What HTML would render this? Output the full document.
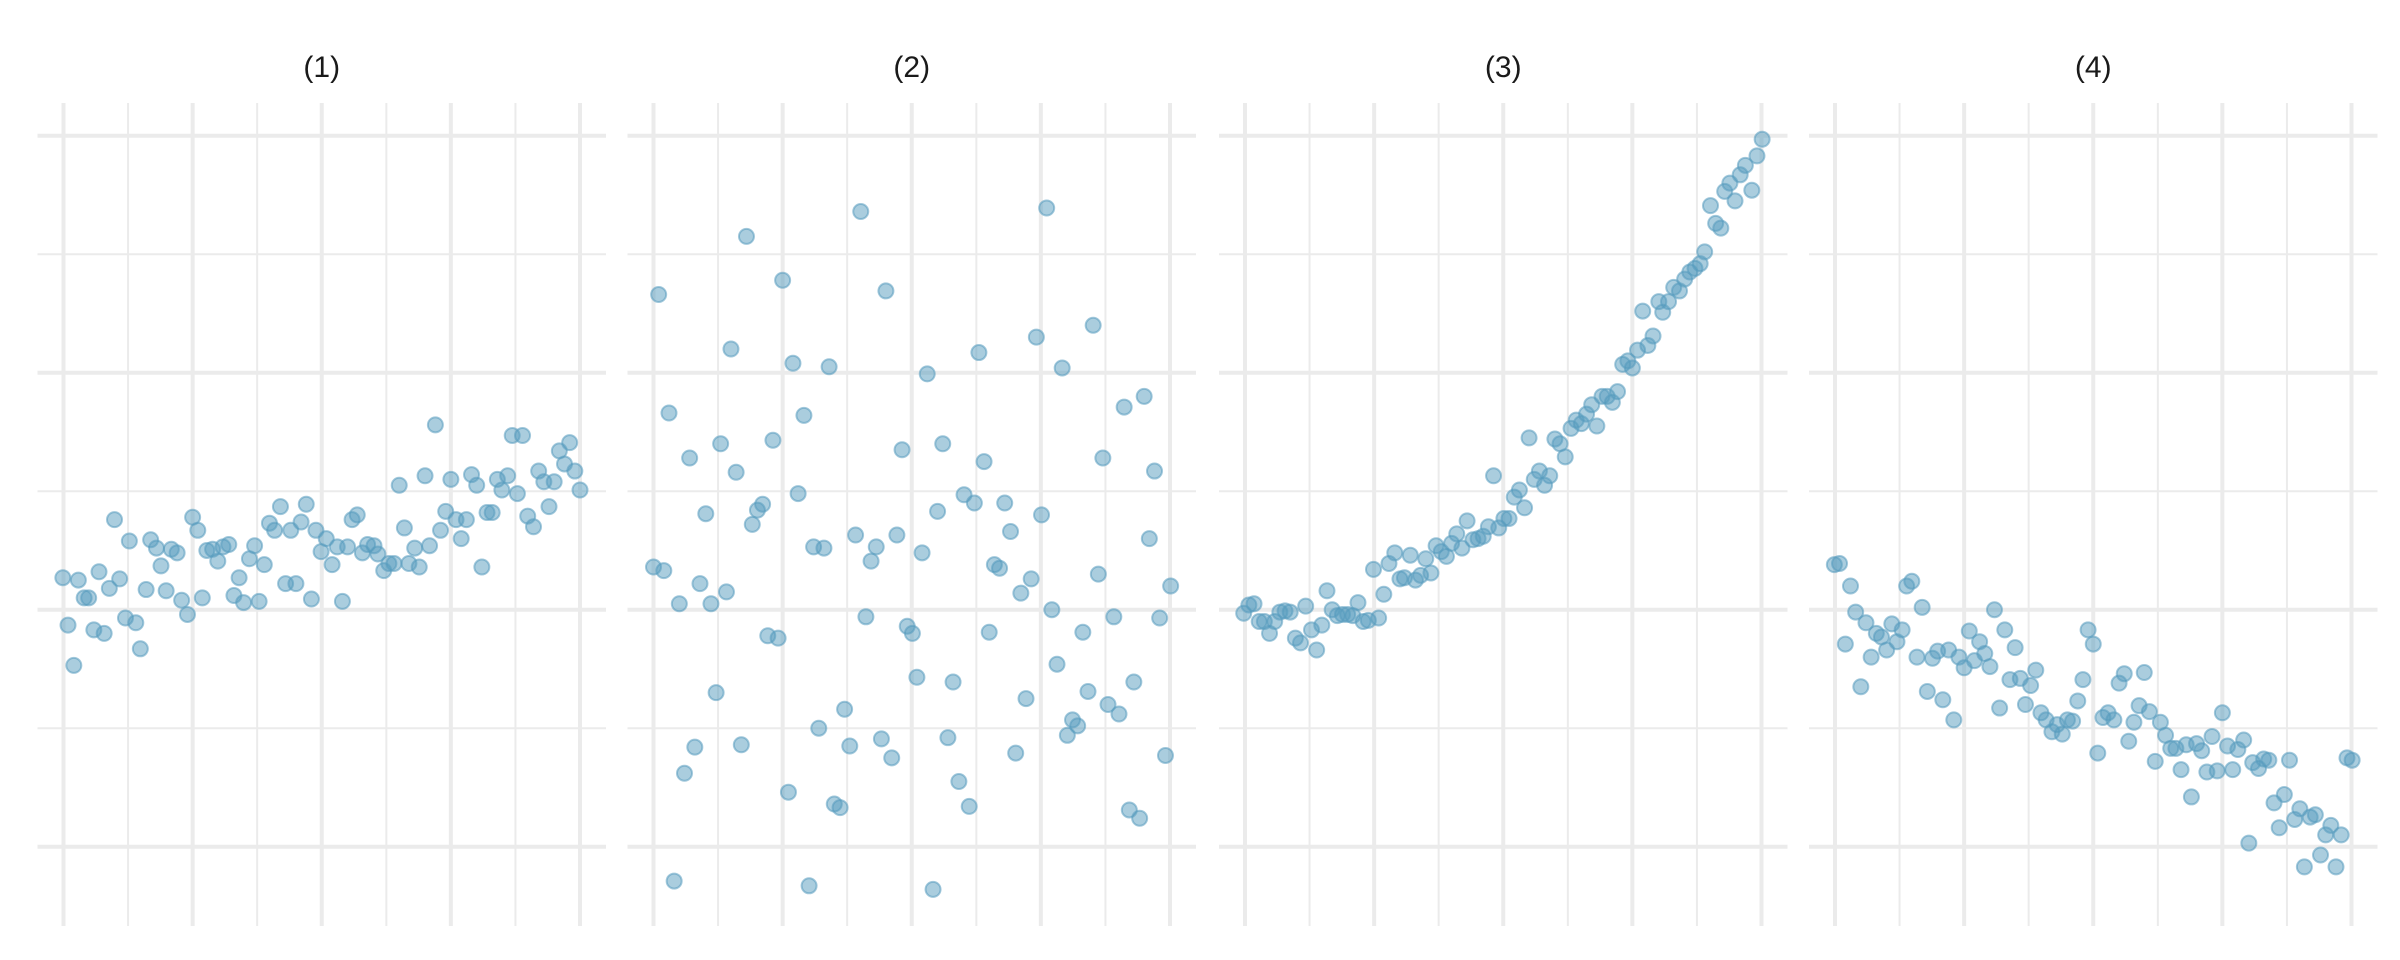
<!DOCTYPE html>
<html><head><meta charset="utf-8"><style>
html,body{margin:0;padding:0;background:#fff;}
svg{display:block;}
text{font-family:"Liberation Sans",Arial,sans-serif;}
</style></head><body>
<svg id="chart" width="2400" height="960" viewBox="0 0 2400 960"></svg>
<script>
const panelTitles = ["(1)","(2)","(3)","(4)"];
const xTicks = [0,1,2,3,4,5,6,7,8];
const yTicks = [-2,-1,0,1,2,3,4];

const p1x = [-0.01,0.07,0.23,0.32,0.39,0.16,0.47,0.55,0.63,0.71,0.79,0.87,0.96,1.02,1.12,1.19,1.28,1.35,1.44,1.51,1.59,1.67,1.76,1.83,1.92,2.00,2.08,2.15,2.22,2.31,2.39,2.47,2.56,2.64,2.72,2.79,2.88,2.96,3.03,3.11,3.19,3.27,3.36,3.44,3.52,3.60,3.68,3.76,3.84,3.91,3.99,4.07,4.16,4.24,4.32,4.40,4.47,4.55,4.63,4.71,4.81,4.87,4.96,5.04,5.12,5.20,5.28,5.35,5.44,5.51,5.60,5.67,5.76,5.84,5.92,6.00,6.08,6.16,6.24,6.32,6.40,6.48,6.56,6.64,6.72,6.79,6.88,6.95,7.03,7.11,7.19,7.28,7.36,7.44,7.52,7.60,7.68,7.76,7.84,7.92,8.00];
const p1y = [0.27,-0.13,0.25,0.10,0.10,-0.47,-0.17,0.32,-0.20,0.18,0.76,0.26,-0.07,0.58,-0.11,-0.33,0.17,0.59,0.52,0.37,0.16,0.51,0.48,0.08,-0.04,0.78,0.67,0.10,0.50,0.51,0.41,0.53,0.55,0.12,0.27,0.06,0.43,0.54,0.07,0.38,0.73,0.67,0.87,0.22,0.67,0.22,0.74,0.89,0.09,0.67,0.49,0.60,0.38,0.53,0.07,0.53,0.76,0.80,0.48,0.55,0.54,0.47,0.33,0.39,0.39,1.05,0.69,0.39,0.52,0.36,1.13,0.54,1.56,0.67,0.83,1.10,0.76,0.60,0.76,1.14,1.05,0.36,0.82,0.82,1.10,1.01,1.13,1.47,0.98,1.47,0.79,0.70,1.17,1.08,0.87,1.08,1.34,1.23,1.41,1.17,1.01];

const p2x = [0.00,0.08,0.16,0.24,0.32,0.40,0.48,0.56,0.64,0.72,0.81,0.89,0.97,1.04,1.13,1.20,1.28,1.36,1.44,1.53,1.61,1.69,1.77,1.85,1.93,2.00,2.09,2.16,2.24,2.33,2.41,2.48,2.56,2.64,2.72,2.80,2.89,2.96,3.04,3.13,3.21,3.29,3.37,3.45,3.53,3.60,3.69,3.77,3.85,3.93,4.01,4.08,4.16,4.24,4.33,4.40,4.48,4.56,4.64,4.73,4.81,4.89,4.97,5.04,5.12,5.20,5.28,5.36,5.44,5.53,5.61,5.69,5.77,5.85,5.93,6.01,6.09,6.17,6.25,6.33,6.41,6.49,6.57,6.65,6.73,6.81,6.89,6.96,7.04,7.13,7.21,7.29,7.37,7.44,7.53,7.60,7.68,7.76,7.84,7.93,8.01];
const p2y = [0.36,2.66,0.33,1.66,-2.29,0.05,-1.38,1.28,-1.16,0.22,0.81,0.05,-0.70,1.40,0.15,2.20,1.16,-1.14,3.15,0.72,0.84,0.89,-0.22,1.43,-0.24,2.78,-1.54,2.08,0.98,1.64,-2.33,0.53,-1.00,0.52,2.05,-1.64,-1.67,-0.84,-1.15,0.63,3.36,-0.06,0.41,0.53,-1.09,2.69,-1.25,0.63,1.35,-0.14,-0.20,-0.57,0.48,1.99,-2.36,0.83,1.40,-1.08,-0.61,-1.45,0.97,-1.66,0.90,2.17,1.25,-0.19,0.38,0.35,0.90,0.66,-1.21,0.14,-0.75,0.26,2.30,0.80,3.39,0.00,-0.46,2.04,-1.06,-0.93,-0.98,-0.19,-0.69,2.40,0.30,1.28,-0.80,-0.06,-0.88,1.71,-1.69,-0.61,-1.76,1.80,0.60,1.17,-0.07,-1.23,0.20];

const p3x = [-0.02,0.06,0.14,0.22,0.30,0.38,0.46,0.54,0.62,0.70,0.78,0.86,0.94,1.03,1.11,1.19,1.27,1.35,1.43,1.51,1.59,1.67,1.75,1.83,1.91,1.99,2.07,2.15,2.23,2.32,2.40,2.47,2.56,2.64,2.72,2.80,2.88,2.96,3.04,3.12,3.20,3.28,3.36,3.44,3.53,3.61,3.69,3.77,3.85,3.93,4.01,4.09,4.17,4.25,4.33,4.40,4.48,4.56,4.64,4.72,4.80,4.88,4.96,5.05,5.13,5.21,5.29,5.37,5.45,5.53,5.61,5.69,5.77,5.85,5.93,6.00,6.08,6.16,6.24,6.32,6.41,6.47,6.56,6.64,6.73,6.81,6.89,6.97,7.05,7.12,7.21,7.29,7.37,7.43,7.51,7.59,7.67,7.75,7.85,7.93,8.01];
const p3y = [-0.03,0.04,0.05,-0.10,-0.10,-0.20,-0.10,-0.02,-0.01,-0.02,-0.24,-0.28,0.03,-0.17,-0.34,-0.13,0.16,0.00,-0.05,-0.04,-0.04,-0.05,0.06,-0.10,-0.09,0.34,-0.07,0.13,0.39,0.48,0.26,0.27,0.46,0.25,0.29,0.43,0.31,0.54,0.49,0.45,0.56,0.64,0.52,0.75,0.59,0.60,0.62,0.70,1.13,0.69,0.77,0.77,0.95,1.01,0.86,1.45,1.10,1.17,1.05,1.13,1.44,1.40,1.29,1.53,1.60,1.57,1.65,1.73,1.55,1.80,1.80,1.75,1.84,2.07,2.10,2.04,2.19,2.52,2.23,2.31,2.60,2.51,2.60,2.72,2.69,2.79,2.85,2.88,2.92,3.02,3.41,3.26,3.22,3.53,3.60,3.45,3.67,3.75,3.54,3.83,3.97];

const p4x = [-0.01,0.07,0.16,0.24,0.32,0.40,0.48,0.56,0.64,0.72,0.80,0.88,0.96,1.04,1.11,1.19,1.27,1.35,1.43,1.51,1.59,1.67,1.76,1.84,1.92,2.00,2.08,2.16,2.24,2.32,2.40,2.47,2.55,2.63,2.71,2.79,2.87,2.95,3.03,3.11,3.19,3.27,3.36,3.44,3.52,3.60,3.68,3.76,3.84,3.92,4.00,4.07,4.15,4.23,4.32,4.40,4.48,4.55,4.63,4.71,4.79,4.87,4.96,5.04,5.12,5.20,5.28,5.36,5.44,5.52,5.60,5.68,5.76,5.84,5.92,6.00,6.08,6.16,6.24,6.33,6.41,6.47,6.56,6.64,6.72,6.80,6.88,6.96,7.04,7.12,7.20,7.27,7.36,7.44,7.52,7.60,7.68,7.76,7.84,7.93,8.01];
const p4y = [0.38,0.39,-0.29,0.20,-0.02,-0.65,-0.11,-0.40,-0.20,-0.23,-0.34,-0.12,-0.27,-0.17,0.20,0.24,-0.40,0.02,-0.69,-0.41,-0.35,-0.76,-0.34,-0.93,-0.40,-0.49,-0.18,-0.43,-0.27,-0.37,-0.48,0.00,-0.83,-0.17,-0.59,-0.32,-0.58,-0.80,-0.64,-0.51,-0.87,-0.93,-1.03,-0.97,-1.05,-0.93,-0.94,-0.77,-0.59,-0.17,-0.29,-1.21,-0.91,-0.87,-0.93,-0.62,-0.54,-1.11,-0.95,-0.81,-0.53,-0.86,-1.28,-0.95,-1.06,-1.17,-1.17,-1.35,-1.14,-1.58,-1.13,-1.19,-1.37,-1.07,-1.36,-0.87,-1.15,-1.35,-1.18,-1.10,-1.97,-1.29,-1.34,-1.26,-1.27,-1.63,-1.84,-1.56,-1.27,-1.77,-1.68,-2.17,-1.75,-1.73,-2.07,-1.90,-1.82,-2.17,-1.90,-1.25,-1.27];

const seriesX = [p1x,p2x,p3x,p4x];
const seriesY = [p1y,p2y,p3y,p4y];

const NS = "http://www.w3.org/2000/svg";
const svg = document.getElementById("chart");
const panelLeft = [63.5, 653.5, 1245, 1835];
const panelW = 516.5;
const yTop = 135.7, yBot = 846.7;
function xScale(p, v){ return panelLeft[p] + (v - 0) / 8 * panelW; }
function yScale(v){ return yBot - (v - (-2)) / 6 * (yBot - yTop); }
function mk(tag, attrs){ const e = document.createElementNS(NS, tag); for (const k in attrs) e.setAttribute(k, attrs[k]); return e; }

for (let p = 0; p < 4; p++) {
  const g = mk("g", {});
  
  
  svg.appendChild(g);
  const grid = mk("g", {});
  
  
  g.appendChild(grid);
  yTicks.forEach(t => {
    const y = yScale(t);
    const major = (t % 2 === 0);
    const l = mk("line", {x1: panelLeft[p]-26, x2: panelLeft[p]+panelW+26, y1: y, y2: y, stroke: "#ebebeb", "stroke-width": major ? 4 : 2});
    
    
    grid.appendChild(l);
  });
  xTicks.forEach(t => {
    const x = xScale(p, t);
    const major = (t % 2 === 0);
    const l = mk("line", {x1: x, x2: x, y1: 103, y2: 926, stroke: "#ebebeb", "stroke-width": major ? 4 : 2});
    
    
    grid.appendChild(l);
  });
  const title = mk("text", {x: panelLeft[p] + panelW/2, y: 77, "text-anchor": "middle", "font-size": 30, fill: "#1a1a1a"});
  title.textContent = panelTitles[p];
  
  
  g.appendChild(title);
  const pts = mk("g", {});
  
  
  g.appendChild(pts);
  const xs = seriesX[p], ys = seriesY[p];
  for (let i = 0; i < xs.length; i++) {
    const c = mk("circle", {cx: xScale(p, xs[i]), cy: yScale(ys[i]), r: 7.5, fill: "#569bbd", "fill-opacity": 0.5, stroke: "#569bbd", "stroke-opacity": 0.55, "stroke-width": 2});
    
    
    pts.appendChild(c);
  }
}
</script>
</body></html>
